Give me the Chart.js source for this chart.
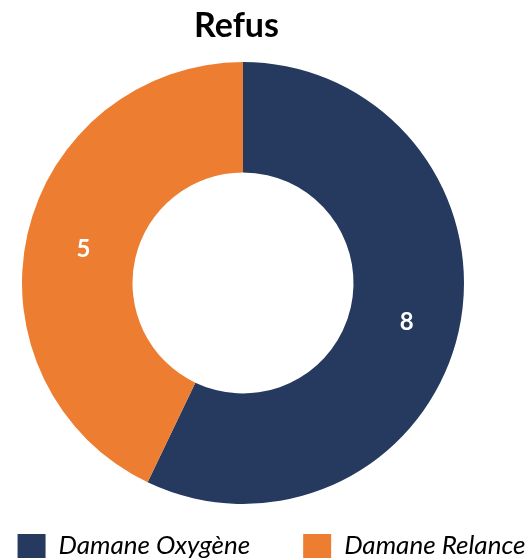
<!DOCTYPE html>
<html lang="fr">
<head>
<meta charset="utf-8">
<title>Refus</title>
<script src="https://cdn.jsdelivr.net/npm/chart.js@4.4.1/dist/chart.umd.min.js"></script>
<style>
  html, body { margin: 0; padding: 0; background: #fff; }
  #wrap { width: 525px; height: 559px; position: relative; }
</style>
</head>
<body>
<div id="wrap"><canvas id="chartRefus"></canvas></div>
<script>
// Données
const categories = ['Damane Oxygène', 'Damane Relance'];
const refusCounts = [8, 5];          // étiquettes affichées sur les parts
const sliceShares = [57.1, 42.9];    // part du cercle mesurée sur l'image (%)
const sliceColors = ['#253A5E', '#ED7D31'];

// Géométrie de l'anneau et décalages (mise en page)
const ring = { cx: 243, cy: 283, r: 221 };
const titleShift = -26;
const legendShift = 9;

const fixLayoutPlugin = {
  id: 'fixLayout',
  afterLayout(chart) {
    const a = chart.chartArea;
    a.left = ring.cx - ring.r;
    a.right = ring.cx + ring.r;
    a.top = ring.cy - ring.r;
    a.bottom = ring.cy + ring.r;
    a.width = ring.r * 2;
    a.height = ring.r * 2;

    if (chart.titleBlock) {
      chart.titleBlock.left += titleShift;
      chart.titleBlock.right += titleShift;
    }
    if (chart.legend) {
      chart.legend.left += legendShift;
      chart.legend.right += legendShift;
    }
  },
};

const valueLabelsPlugin = {
  id: 'valueLabels',
  afterDatasetsDraw(chart) {
    const { ctx } = chart;
    const meta = chart.getDatasetMeta(0);
    ctx.save();
    ctx.fillStyle = '#ffffff';
    ctx.font = "bold 24px Lato, 'Open Sans', sans-serif";
    ctx.textAlign = 'center';
    ctx.textBaseline = 'middle';
    meta.data.forEach((arc, i) => {
      const p = arc.tooltipPosition();
      ctx.fillText(String(refusCounts[i]), p.x + 2, p.y + 3);
    });
    ctx.restore();
  },
};

new Chart(document.getElementById('chartRefus'), {
  type: 'doughnut',
  data: {
    labels: categories,
    datasets: [{
      data: sliceShares,
      backgroundColor: sliceColors,
      borderWidth: 0,
      hoverOffset: 0,
    }],
  },
  options: {
    responsive: true,
    maintainAspectRatio: false,
    animation: false,
    cutout: '50%',
    layout: { padding: { left: -50, right: -50, bottom: -10 } },
    plugins: {
      title: {
        display: true,
        text: 'Refus',
        color: '#000000',
        font: { family: "Lato, 'Open Sans', sans-serif", size: 34, weight: 'bold' },
        padding: { top: 6, bottom: 8 },
      },
      legend: {
        position: 'bottom',
        labels: {
          color: '#000000',
          font: { family: "Lato, 'Open Sans', sans-serif", size: 26, style: 'italic' },
          boxWidth: 28,
          boxHeight: 24,
          padding: 53,
        },
      },
      tooltip: { enabled: false },
    },
  },
  plugins: [fixLayoutPlugin, valueLabelsPlugin],
});
</script>
</body>
</html>
